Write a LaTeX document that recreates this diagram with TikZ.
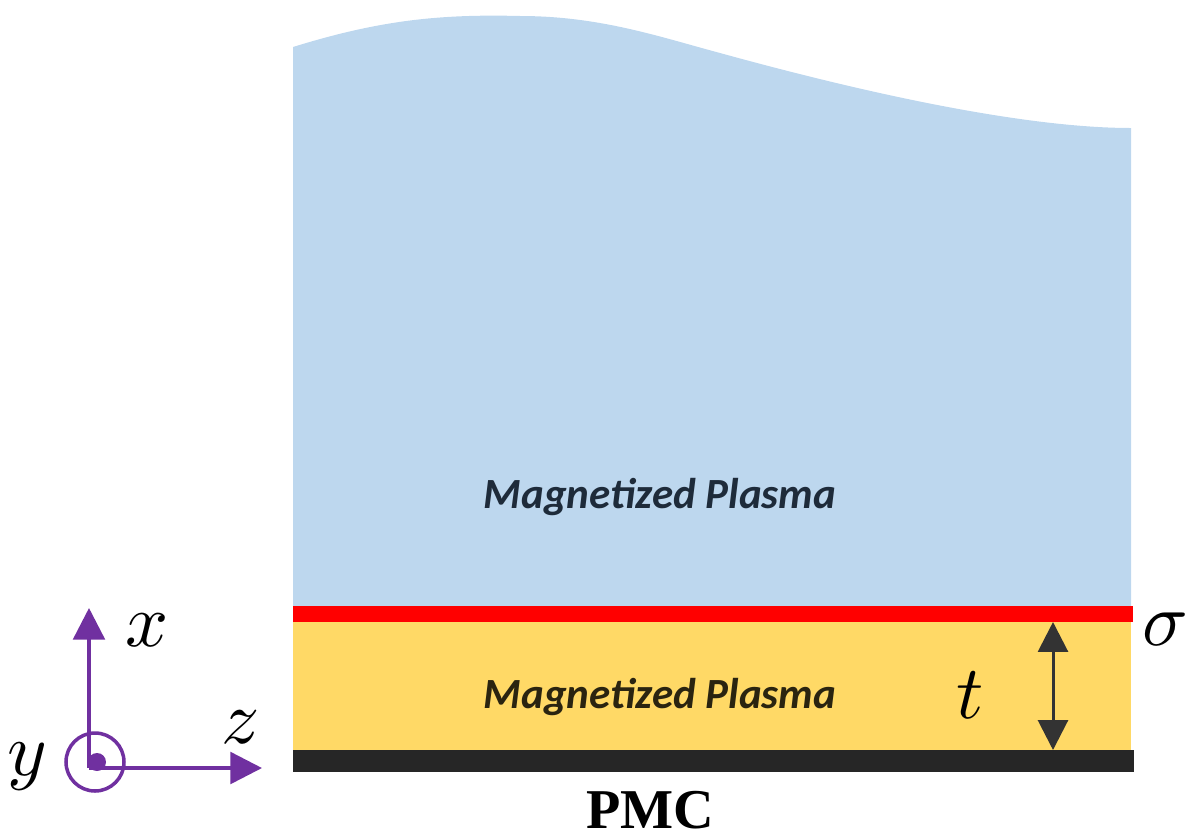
\documentclass[tikz,border=0pt]{standalone}
\usepackage{fontspec}
\usepackage{unicode-math}
\setmathfont{Latin Modern Math}
\newfontfamily\calib{Carlito}
\newfontfamily\timesf{Liberation Serif}
\usetikzlibrary{arrows.meta}
\definecolor{plasmablue}{HTML}{BDD7EE}
\definecolor{plasmagold}{HTML}{FFD966}
\definecolor{sheetred}{HTML}{FF0000}
\definecolor{pmcblack}{HTML}{262626}
\definecolor{axispurple}{HTML}{7030A0}
\definecolor{arrowgray}{HTML}{333333}
\definecolor{labelblue}{HTML}{1E2B3A}
\definecolor{labelbrown}{HTML}{2A2410}
\tikzset{
  plasmalabel/.style={font=\calib\bfseries\itshape\fontsize{24.5}{28}\selectfont, inner sep=0pt},
  mathlabel/.style={font=\fontsize{43}{50}\selectfont, inner sep=0pt},
  axisarrow/.style={axispurple, line width=2pt, -{Triangle[length=18pt,width=18pt]}},
  thickarrow/.style={arrowgray, line width=1.7pt, {Triangle[length=17pt,width=17pt]}-{Triangle[length=17pt,width=17pt]}}
}
\begin{document}
\begin{tikzpicture}[x=0.02cm,y=-0.02cm]
\useasboundingbox (0,0) rectangle (1200,839);
% upper plasma region
\fill[plasmablue] (293,606) -- (293,47)
  .. controls (380,20) and (440,14) .. (520,16)
  .. controls (600,16) and (660,37) .. (720,53)
  .. controls (800,75) and (1000,128) .. (1131,128)
  -- (1131,606) -- cycle;
% lower plasma slab
\fill[plasmagold] (293,622) rectangle (1131,750);
% graphene sheet
\fill[sheetred] (293,606) rectangle (1133,622);
% PMC ground
\fill[pmcblack] (293,750) rectangle (1134,772);
\node[plasmalabel, text=labelblue] (upper) at (660,497) {Magnetized Plasma};
\node[plasmalabel, text=labelbrown] (lower) at (660,697) {Magnetized Plasma};
\node[font=\timesf\bfseries\fontsize{32}{36}\selectfont, inner sep=0pt] (pmc) at (650,810) {PMC};
% thickness arrow
\coordinate (ttop) at (1053,622);
\coordinate (tbot) at (1053,750);
\draw[thickarrow] (ttop) -- (tbot);
\node[mathlabel] (t) at (970,695) {$t$};
\node[mathlabel] (sigma) at (1165,630) {$\sigma$};
% axes
\coordinate (O) at (89,768);
\coordinate (xtip) at (89,608);
\coordinate (ztip) at (262,768);
\draw[axisarrow] (O) -- (xtip);
\draw[axisarrow] (O) -- (ztip);
\draw[axispurple, line width=2pt] (95,762) circle (29);
\fill[axispurple] (97,762) circle (9);
\node[mathlabel] (xl) at (147,630) {$x$};
\node[mathlabel] (zl) at (240,727) {$z$};
\node[mathlabel] (yl) at (27,767) {$y$};
\end{tikzpicture}
\end{document}
